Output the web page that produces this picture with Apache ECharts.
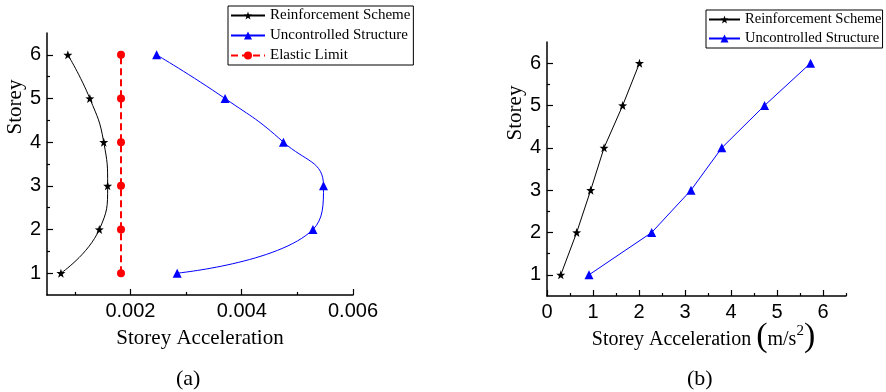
<!DOCTYPE html>
<html><head><meta charset="utf-8">
<script src="https://cdn.jsdelivr.net/npm/echarts@6/dist/echarts.min.js"></script>
<style>html,body{margin:0;padding:0;background:#fff}#c{width:886px;height:392px}</style>
</head><body><div id="c"></div>
<script>
const storeys = [1, 2, 3, 4, 5, 6];
// (a) storey acceleration ratio
const aReinforced   = [0.00075, 0.00144, 0.00159, 0.00152, 0.00127, 0.000875];
const aUncontrolled = [0.00284, 0.00528, 0.00547, 0.00475, 0.00370, 0.00247];
const aElastic      = [0.00183, 0.00183, 0.00183, 0.00183, 0.00183, 0.00183];
// (b) storey acceleration, m/s^2
const bReinforced   = [0.30, 0.645, 0.95, 1.24, 1.645, 2.01];
const bUncontrolled = [0.913, 2.276, 3.13, 3.80, 4.73, 5.73];
// tick positions
const aXMajor = [0.002, 0.004, 0.006];
const aXMinor = [0.001, 0.003, 0.005];
const bXMajor = [0, 1, 2, 3, 4, 5, 6];
const bXMinor = [0.5, 1.5, 2.5, 3.5, 4.5, 5.5, 6.5];
const storeyMajor = [1, 2, 3, 4, 5, 6];
const storeyMinor = [1.5, 2.5, 3.5, 4.5, 5.5];

const names = ['Reinforcement Scheme', 'Uncontrolled Structure', 'Elastic Limit'];
const SERIF = '"Liberation Serif", "Times New Roman", serif';
const SANS = '"Liberation Sans", Arial, sans-serif';
const STAR = 'path://M0,-10L2.35,-3.24L9.51,-3.09L3.8,1.24L5.88,8.09L0,4L-5.88,8.09L-3.8,1.24L-9.51,-3.09L-2.35,-3.24Z';

const pairs = (xs) => storeys.map((s, i) => [xs[i], s]);

function mainAxis(gridIndex, position, min, max, ticks, extra) {
  return Object.assign({
    type: 'value', gridIndex, position, min, max,
    axisLine: { show: true, onZero: false, lineStyle: { color: '#000', width: 1.5 } },
    axisTick: { show: true, inside: true, length: 6, customValues: ticks, lineStyle: { color: '#000', width: 1.2 } },
    axisLabel: { show: true, customValues: ticks, color: '#000', fontFamily: SANS, fontSize: 20, margin: 6 },
    splitLine: { show: false }
  }, extra || {});
}
function minorAxis(gridIndex, position, min, max, ticks) {
  return {
    type: 'value', gridIndex, position, min, max,
    axisLine: { show: false, onZero: false },
    axisTick: { show: true, inside: true, length: 3, customValues: ticks, lineStyle: { color: '#000', width: 1.2 } },
    axisLabel: { show: false, customValues: ticks },
    splitLine: { show: false }
  };
}

const nameStyle = { color: '#000', fontFamily: SERIF, fontSize: 21 };
const panelLabel = { fontFamily: SERIF, fontSize: 22, fontWeight: 'normal', color: '#000' };

const option = {
  animation: false,
  backgroundColor: '#fff',
  title: [
    { text: '(a)', left: 171, top: 363, textStyle: panelLabel },
    { text: '(b)', left: 682, top: 363, textStyle: panelLabel }
  ],
  legend: [
    {
      data: names, orient: 'vertical', left: 228, top: 6,
      itemWidth: 34, itemHeight: 10, itemGap: 5, padding: [2, 3, 2, 2],
      borderColor: '#000', borderWidth: 1, backgroundColor: '#fff', borderRadius: 0,
      textStyle: { fontFamily: SERIF, fontSize: 15, color: '#000' }
    },
    {
      data: names.slice(0, 2), orient: 'vertical', left: 706, top: 10,
      itemWidth: 31, itemHeight: 10, itemGap: 4, padding: [2, 1, 2, 2],
      borderColor: '#000', borderWidth: 1, backgroundColor: '#fff', borderRadius: 0,
      textStyle: { fontFamily: SERIF, fontSize: 14.6, color: '#000' }
    }
  ],
  grid: [
    { left: 47, top: 33, width: 306, height: 262 },
    { left: 547, top: 42, width: 299, height: 254 }
  ],
  xAxis: [
    mainAxis(0, 'bottom', 0.0005, 0.006, aXMajor, {
      name: 'Storey Acceleration', nameLocation: 'middle', nameGap: 33, nameTextStyle: nameStyle
    }),
    minorAxis(0, 'bottom', 0.0005, 0.006, aXMinor),
    mainAxis(1, 'bottom', 0, 6.5, bXMajor, {
      name: '{t|Storey Acceleration }{p|(}{u|m/s}{s|2}{p|)}', nameLocation: 'middle', nameGap: 24,
      nameMoveOverlap: false,
      nameTextStyle: {
        color: '#000', fontFamily: SERIF, padding: [0, 0, 0, 14],
        rich: {
          t: { fontFamily: SERIF, fontSize: 20, color: '#000', verticalAlign: 'bottom', lineHeight: 34, padding: [0, 0, 4, 0] },
          p: { fontFamily: SERIF, fontSize: 34, color: '#000', verticalAlign: 'bottom', lineHeight: 34 },
          u: { fontFamily: SERIF, fontSize: 20, color: '#000', verticalAlign: 'bottom', lineHeight: 34, padding: [0, 0, 4, 0] },
          s: { fontFamily: SERIF, fontSize: 15, color: '#000', verticalAlign: 'top', lineHeight: 34, padding: [4, 0, 0, 0] }
        }
      }
    }),
    minorAxis(1, 'bottom', 0, 6.5, bXMinor)
  ],
  yAxis: [
    mainAxis(0, 'left', 0.5, 6.5, storeyMajor, {
      name: 'Storey', nameLocation: 'middle', nameGap: 21, nameRotate: 90,
      nameTextStyle: Object.assign({ padding: [0, 0, 0, 114] }, nameStyle)
    }),
    minorAxis(0, 'left', 0.5, 6.5, storeyMinor),
    mainAxis(1, 'left', 0.5, 6.5, storeyMajor, {
      name: 'Storey', nameLocation: 'middle', nameGap: 18, nameRotate: 90,
      nameTextStyle: Object.assign({ padding: [0, 0, 0, 112] }, nameStyle)
    }),
    minorAxis(1, 'left', 0.5, 6.5, storeyMinor)
  ],
  series: [
    {
      name: names[0], type: 'line', xAxisIndex: 0, yAxisIndex: 0, data: pairs(aReinforced),
      smooth: 0.5, symbol: STAR, symbolSize: 9, showAllSymbol: true,
      lineStyle: { color: '#000', width: 1 }, itemStyle: { color: '#000' }
    },
    {
      name: names[1], type: 'line', xAxisIndex: 0, yAxisIndex: 0, data: pairs(aUncontrolled),
      smooth: 0.5, symbol: 'triangle', symbolSize: 9,
      lineStyle: { color: '#0000ff', width: 1 }, itemStyle: { color: '#0000ff' }
    },
    {
      name: names[2], type: 'line', xAxisIndex: 0, yAxisIndex: 0, data: pairs(aElastic),
      symbol: 'circle', symbolSize: 8,
      lineStyle: { color: '#ff0000', width: 2, type: [7, 4] }, itemStyle: { color: '#ff0000' }
    },
    {
      name: names[0], type: 'line', xAxisIndex: 2, yAxisIndex: 2, data: pairs(bReinforced),
      symbol: STAR, symbolSize: 9,
      lineStyle: { color: '#000', width: 1 }, itemStyle: { color: '#000' }
    },
    {
      name: names[1], type: 'line', xAxisIndex: 2, yAxisIndex: 2, data: pairs(bUncontrolled),
      symbol: 'triangle', symbolSize: 9,
      lineStyle: { color: '#0000ff', width: 1 }, itemStyle: { color: '#0000ff' }
    }
  ]
};

const chart = echarts.init(document.getElementById('c'), null, { renderer: 'canvas' });
chart.setOption(option);
</script>
</body></html>
